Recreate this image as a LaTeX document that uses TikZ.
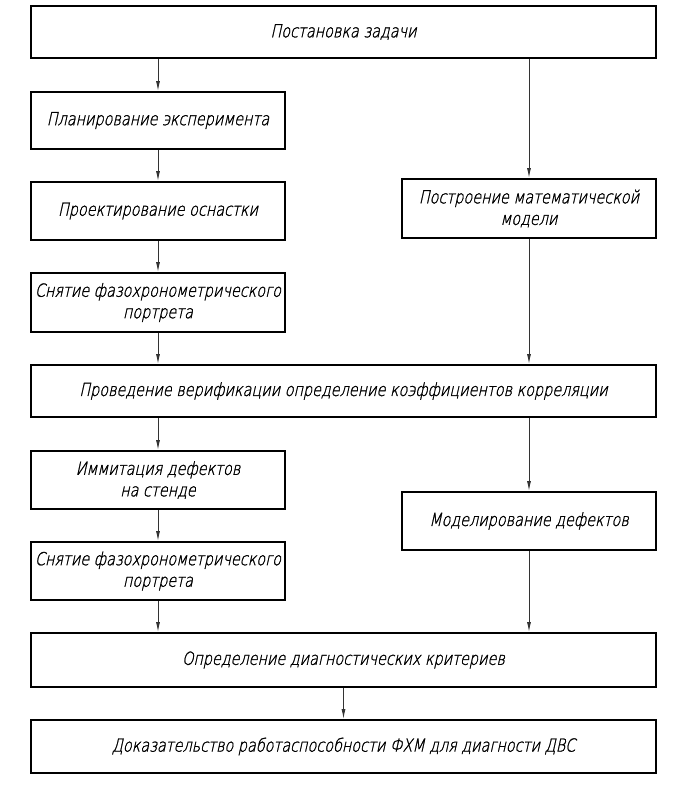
\documentclass[tikz,border=0pt]{standalone}
\usepackage{fontspec}
\newfontfamily\gost{DejaVu Sans ExtraLight}[FakeSlant=0.22,FakeStretch=0.8,FakeBold=1.2]
\usetikzlibrary{arrows.meta}
\begin{document}
\begin{tikzpicture}[x=1pt,y=-1pt,
  box/.style={draw=black,line width=2pt,rectangle,inner sep=0pt,align=center,
    font=\gost\fontsize{18}{21.5}\selectfont},
  wide/.style={box,minimum width=625pt},
  narrow/.style={box,minimum width=254pt},
  conn/.style={draw=black!80,line width=0.9pt,-{Latex[length=10pt,width=4pt]}}]
\useasboundingbox (0,0) rectangle (689,787);
\node[wide,minimum height=52pt] (b1) at (343.5,32) {Постановка задачи};
\node[narrow,minimum height=57pt] (b2) at (158,120.5) {Планирование эксперимента};
\node[narrow,minimum height=58pt] (b3) at (158,211) {Проектирование оснастки};
\node[narrow,minimum height=59pt] (b4) at (158,302.5) {Снятие фазохронометрического\\портрета};
\node[narrow,minimum height=59pt] (r1) at (529,208.5) {Построение математической\\модели};
\node[wide,minimum height=52pt] (b5) at (343.5,391) {Проведение верификации определение коэффициентов корреляции};
\node[narrow,minimum height=58pt] (b6) at (158,480) {Иммитация дефектов\\на стенде};
\node[narrow,minimum height=58pt] (b7) at (158,571) {Снятие фазохронометрического\\портрета};
\node[narrow,minimum height=58pt] (r2) at (529,521) {Моделирование дефектов};
\node[wide,minimum height=54pt] (b8) at (343.5,660) {Определение диагностических критериев};
\node[wide,minimum height=53pt] (b9) at (343.5,746.5) {Доказательство работаспособности ФХМ для диагности ДВС};
\draw[conn] (b1.south -| b2.north) -- (b2.north);
\draw[conn] (b2.south) -- (b3.north);
\draw[conn] (b3.south) -- (b4.north);
\draw[conn] (b4.south) -- (b5.north -| b4.south);
\draw[conn] (b1.south -| r1.north) -- (r1.north);
\draw[conn] (r1.south) -- (b5.north -| r1.south);
\draw[conn] (b5.south -| b6.north) -- (b6.north);
\draw[conn] (b6.south) -- (b7.north);
\draw[conn] (b7.south) -- (b8.north -| b7.south);
\draw[conn] (b5.south -| r2.north) -- (r2.north);
\draw[conn] (r2.south) -- (b8.north -| r2.south);
\draw[conn] (b8.south) -- (b9.north);
\end{tikzpicture}
\end{document}
